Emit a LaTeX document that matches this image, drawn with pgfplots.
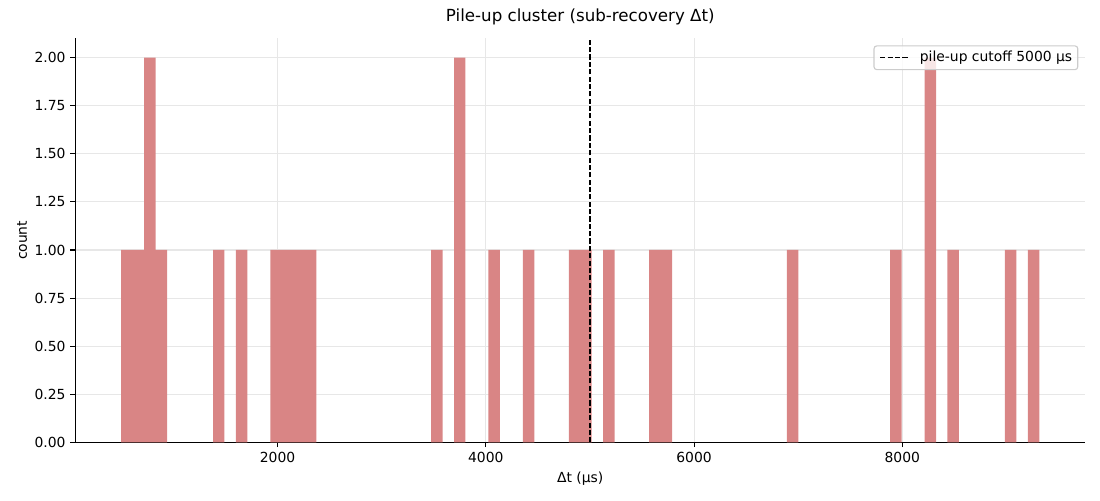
\documentclass[border=0pt]{standalone}
\usepackage{fontspec}
\setmainfont{DejaVu Sans}
\usepackage{pgfplots}
\pgfplotsset{compat=1.18}
\definecolor{barcol}{RGB}{217,133,133}
\definecolor{gridcol}{RGB}{231,231,231}
\definecolor{legbord}{RGB}{204,204,204}
\begin{document}
\begin{tikzpicture}
\path[use as bounding box] (-54.2pt,-41.5pt) rectangle (737.8pt,318.5pt);
\begin{axis}[
  at={(0pt,0pt)}, anchor=south west,
  scale only axis, width=727.2pt, height=290.9pt,
  xmin=57, xmax=9757, ymin=0, ymax=2.1,
  axis x line*=bottom, axis y line*=left,
  axis line style={-, line width=0.8pt, black},
  tick align=outside, major tick length=3.5pt,
  every tick/.style={black, line width=0.8pt},
  xtick={2000,4000,6000,8000},
  ytick={0,0.25,0.5,0.75,1,1.25,1.5,1.75,2},
  scaled x ticks=false, scaled y ticks=false,
  /pgf/number format/assume math mode=true,
  xticklabel style={/pgf/number format/1000 sep={}},
  yticklabel style={/pgf/number format/.cd, fixed, fixed zerofill, precision=2},
  grid=major, major grid style={gridcol, line width=0.8pt},
  title={Pile-up cluster (sub-recovery Δt)},
  title style={at={(axis description cs:0.5,1.0215)}, anchor=base, inner sep=0pt, font=\fontsize{12}{14}\selectfont},
  xlabel={Δt (μs)},
  xlabel style={at={(axis description cs:0.5,-0.1)}, anchor=base, inner sep=0pt},
  ylabel={count},
  ylabel style={at={(axis description cs:-0.0479,0.5)}, anchor=base, inner sep=0pt},
  legend style={at={(axis description cs:0.9931,0.9827)}, anchor=north east,
    draw=legbord, rounded corners=2pt, fill=white, fill opacity=0.8, text opacity=1,
    inner xsep=4pt, inner ysep=4pt, line width=0.8pt,
    nodes={inner xsep=0pt, inner ysep=0pt},
    /tikz/every odd column/.append style={column sep=8pt}},
  legend cell align=left,
  legend image code/.code={\draw[#1] (0pt,0pt) -- (20pt,0pt);},
]
\addplot[ybar, bar width=110.22, bar shift=0pt, fill=barcol, draw=none, forget plot] coordinates {
(553.1,1) (663.3,1) (773.5,2) (883.8,1)
(1434.9,1) (1655.3,1)
(1986.0,1) (2096.2,1) (2206.4,1) (2316.6,1)
(3529.0,1) (3749.5,2) (4080.1,1) (4410.8,1)
(4851.7,1) (4961.9,1) (5182.3,1)
(5623.2,1) (5733.4,1)
(6945.9,1) (7937.8,1) (8268.5,2) (8488.9,1)
(9040.0,1) (9260.5,1)
};
\addplot[black, line width=1pt, dash pattern=on 3.7pt off 1.6pt] coordinates {(5000,0) (5000,2.1)};
\addlegendentry{pile-up cutoff 5000 μs}
\end{axis}
\end{tikzpicture}
\end{document}
